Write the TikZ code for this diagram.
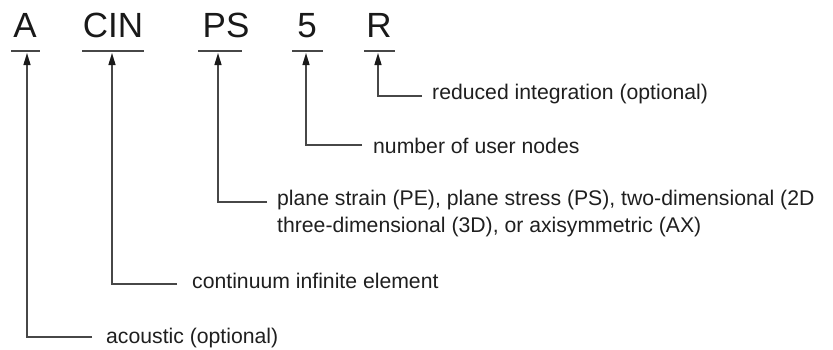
\documentclass[tikz,border=0pt]{standalone}
\usepackage{fontspec}
\setmainfont{Liberation Sans}
\usetikzlibrary{arrows.meta}
\begin{document}
\begin{tikzpicture}[x=1pt,y=-1pt,
  head/.style={anchor=base, inner sep=0pt, font=\fontsize{35}{40}\selectfont, text=black!90},
  lbl/.style={anchor=base west, inner sep=0pt, font=\fontsize{21.2}{26.5}\selectfont, text=black!88, align=left},
  bar/.style={draw=black!72, line width=1.5pt},
  conn/.style={draw=black!72, line width=1.3pt, -{Triangle[length=12pt,width=7pt,color=black!90]}}]
\useasboundingbox (0,0) rectangle (833,349);

% headings
\node[head] (hA)   at (25,37)  {A};
\node[head] (hCIN) at (113,37) {CIN};
\node[head] (hPS)  at (226,37) {PS};
\node[head] (h5)   at (307,37) {5};
\node[head] (hR)   at (379,37) {R};

% underlines
\coordinate (uAl) at (11,51);   \coordinate (uAr) at (40,51);
\coordinate (uCl) at (82,51);   \coordinate (uCr) at (144,51);
\coordinate (uPl) at (198,51);  \coordinate (uPr) at (242,51);
\coordinate (u5l) at (292,51);  \coordinate (u5r) at (323,51);
\coordinate (uRl) at (364,51);  \coordinate (uRr) at (395,51);
\draw[bar] (uAl) -- (uAr);
\draw[bar] (uCl) -- (uCr);
\draw[bar] (uPl) -- (uPr);
\draw[bar] (u5l) -- (u5r);
\draw[bar] (uRl) -- (uRr);

% arrow tips
\coordinate (tA) at (27,53);
\coordinate (tC) at (112,53);
\coordinate (tP) at (218,53);
\coordinate (t5) at (306,53);
\coordinate (tR) at (378,53);

% connector free ends
\coordinate (eR) at (422,96);
\coordinate (e5) at (362,145);
\coordinate (eP) at (267,202);
\coordinate (eC) at (177,284);
\coordinate (eA) at (92,337);

% labels
\node[lbl] (lR) at (432,99)  {reduced integration (optional)};
\node[lbl] (l5) at (373,153) {number of user nodes};
\node[lbl] (lP) at (277,232) {plane strain (PE), plane stress (PS), two-dimensional (2D\\three-dimensional (3D), or axisymmetric (AX)};
\node[lbl] (lC) at (192,288) {continuum infinite element};
\node[lbl] (lA) at (106,343) {acoustic (optional)};

% connectors
\draw[conn] (eR) -| (tR);
\draw[conn] (e5) -| (t5);
\draw[conn] (eP) -| (tP);
\draw[conn] (eC) -| (tC);
\draw[conn] (eA) -| (tA);
\end{tikzpicture}
\end{document}
